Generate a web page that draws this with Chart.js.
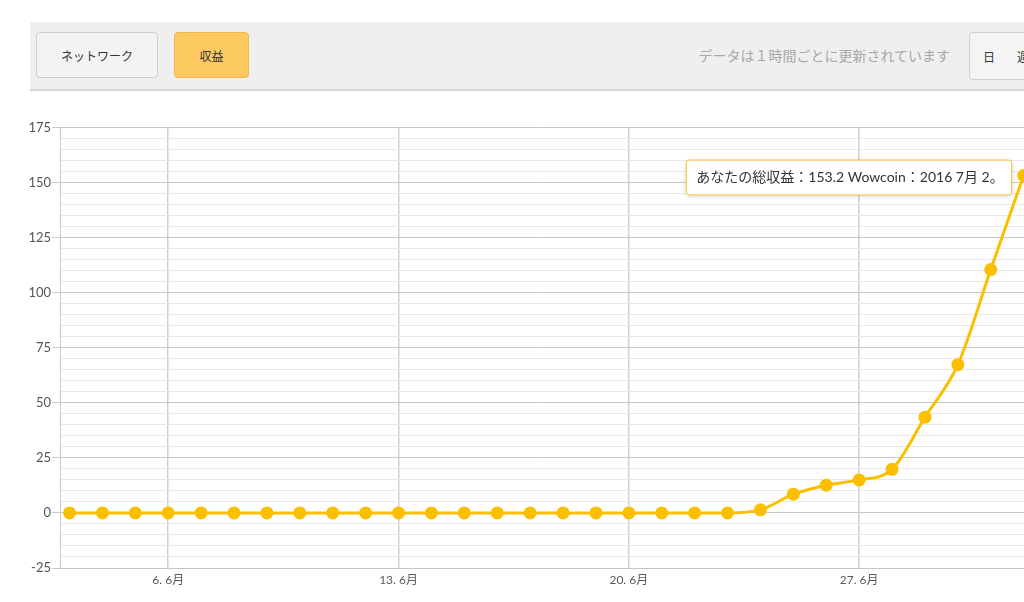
<!DOCTYPE html>
<html>
<head>
<meta charset="utf-8">
<script src="https://cdn.jsdelivr.net/npm/chart.js@4/dist/chart.umd.min.js"></script>
<style>
  html, body { margin: 0; padding: 0; background: #fff; width: 1024px; height: 602px; overflow: hidden; font-family: Lato, "Noto Sans CJK JP", sans-serif; }
  #bar { position: absolute; left: 30px; top: 22px; width: 1000px; height: 67px; background: #efefef; border-bottom: 2px solid #d6d6d6; }
  .btn { position: absolute; top: 10px; height: 43px; border: 1px solid #cfcfcf; border-radius: 4px; box-sizing: border-box; font-size: 12px; color: #333; display: flex; align-items: center; justify-content: center; }
  #b1 { left: 6px; width: 122px; height: 46px; background: #f3f3f3; }
  #b2 { left: 144px; width: 75px; height: 46px; background: #fdca62; border-color: #efb64a; }
  #note { position: absolute; right: 80px; top: 23px; font-size: 14px; color: #a8a8a8; white-space: nowrap; }
  #b3 { left: 939px; width: 120px; height: 48px; background: #f4f4f4; justify-content: flex-start; padding-left: 13px; }
  #b3 span { margin-right: 22px; }
  #wrap { position: absolute; left: 0; top: 100px; width: 1024px; height: 502px; }
</style>
</head>
<body>
<div id="bar">
  <div class="btn" id="b1">ネットワーク</div>
  <div class="btn" id="b2">収益</div>
  <div id="note">データは１時間ごとに更新されています</div>
  <div class="btn" id="b3"><span>日</span><span>週</span></div>
</div>
<div id="wrap"><canvas id="c"></canvas></div>
<script>
const dates = [
  '2016-06-03','2016-06-04','2016-06-05','2016-06-06','2016-06-07','2016-06-08','2016-06-09',
  '2016-06-10','2016-06-11','2016-06-12','2016-06-13','2016-06-14','2016-06-15','2016-06-16',
  '2016-06-17','2016-06-18','2016-06-19','2016-06-20','2016-06-21','2016-06-22','2016-06-23',
  '2016-06-24','2016-06-25','2016-06-26','2016-06-27','2016-06-28','2016-06-29','2016-06-30',
  '2016-07-01','2016-07-02'
];
const earnings = [
  0, 0, 0, 0, 0, 0, 0,
  0, 0, 0, 0, 0, 0, 0,
  0, 0, 0, 0, 0, 0, 0,
  1.4, 8.5, 12.6, 15, 19.8, 43.5, 67.3,
  110.5, 153.2
];
const tickDates = ['2016-06-06','2016-06-13','2016-06-20','2016-06-27'];
const tickLabels = ['6. 6月','13. 6月','20. 6月','27. 6月'];
const yTickLabels = [-25, 0, 25, 50, 75, 100, 125, 150, 175];
const tooltipText = 'あなたの総収益：153.2 Wowcoin：2016 7月 2。';

const FONT = 'Lato, "Noto Sans CJK JP", sans-serif';
const points = earnings.map((v, i) => ({ x: i, y: v }));
const tickIdx = tickDates.map(d => dates.indexOf(d));

Chart.Tooltip.positioners.leftOfPoint = function(items) {
  if (!items.length) return false;
  const el = items[0].element;
  return { x: el.x - 12, y: el.y + 2, xAlign: 'right', yAlign: 'center' };
};

const shadowPlugin = {
  id: 'tipShadow',
  beforeTooltipDraw(chart, args) {
    const t = args.tooltip;
    if (!t.opacity) return;
    const ctx = chart.ctx;
    ctx.save();
    ctx.shadowColor = 'rgba(0,0,0,0.18)';
    ctx.shadowBlur = 5;
    ctx.shadowOffsetY = 1;
    ctx.fillStyle = '#fff';
    ctx.beginPath();
    ctx.roundRect(t.x, t.y, t.width, t.height, 3);
    ctx.fill();
    ctx.restore();
  }
};

const chart = new Chart(document.getElementById('c'), {
  type: 'line',
  data: {
    datasets: [{
      data: points,
      borderColor: '#fcbf00',
      backgroundColor: '#fcbf00',
      borderWidth: 3,
      pointRadius: 5,
      pointHoverRadius: 5,
      pointBackgroundColor: '#fcbf00',
      pointBorderColor: '#fcbf00',
      cubicInterpolationMode: 'monotone',
      clip: false,
      fill: false
    }]
  },
  plugins: [shadowPlugin],
  options: {
    responsive: true,
    maintainAspectRatio: false,
    animation: false,
    events: [],
    layout: { autoPadding: false, padding: { top: 27.5, left: 0, right: 0, bottom: 0 } },
    plugins: {
      legend: { display: false },
      tooltip: {
        enabled: true,
        position: 'leftOfPoint',
        backgroundColor: '#ffffff',
        borderColor: '#f7c23a',
        borderWidth: 1,
        cornerRadius: 3,
        caretSize: 0,
        caretPadding: 0,
        displayColors: false,
        bodyColor: '#333333',
        bodyFont: { family: FONT, size: 14 },
        padding: { left: 10, right: 8, top: 9, bottom: 9 },
        callbacks: {
          title: () => '',
          label: () => tooltipText
        }
      }
    },
    scales: {
      x: {
        type: 'linear',
        min: -0.289,
        max: 29.01,
        afterFit: s => { s.height = 34; },
        afterBuildTicks: s => { s.ticks = tickIdx.map(v => ({ value: v })); },
        ticks: {
          autoSkip: false,
          maxRotation: 0,
          padding: 5,
          color: '#5a5a5a',
          font: { family: FONT, size: 12 },
          callback: (v) => { const k = tickIdx.indexOf(v); return k >= 0 ? tickLabels[k] : ''; }
        },
        grid: { color: '#d0d0d0', lineWidth: 1.5, drawTicks: false },
        border: { display: true, color: '#c6c6c6', width: 1 }
      },
      y: {
        min: -25,
        max: 175,
        afterFit: s => { s.width = 60; },
        ticks: {
          stepSize: 5,
          autoSkip: false,
          padding: 1,
          color: '#555555',
          font: { family: FONT, size: 13 },
          callback: (v) => yTickLabels.includes(v) ? String(v) : ''
        },
        grid: {
          color: c => yTickLabels.includes(c.tick.value) ? '#c8c8c8' : '#e8e8e8',
          tickColor: c => yTickLabels.includes(c.tick.value) ? '#c8c8c8' : 'rgba(0,0,0,0)',
          tickLength: 8,
          lineWidth: 1
        },
        border: { display: true, color: '#c8c8c8', width: 1 }
      }
    }
  }
});

chart.tooltip.setActiveElements([{ datasetIndex: 0, index: earnings.length - 1 }], { x: 0, y: 0 });
chart.update();
</script>
</body>
</html>
